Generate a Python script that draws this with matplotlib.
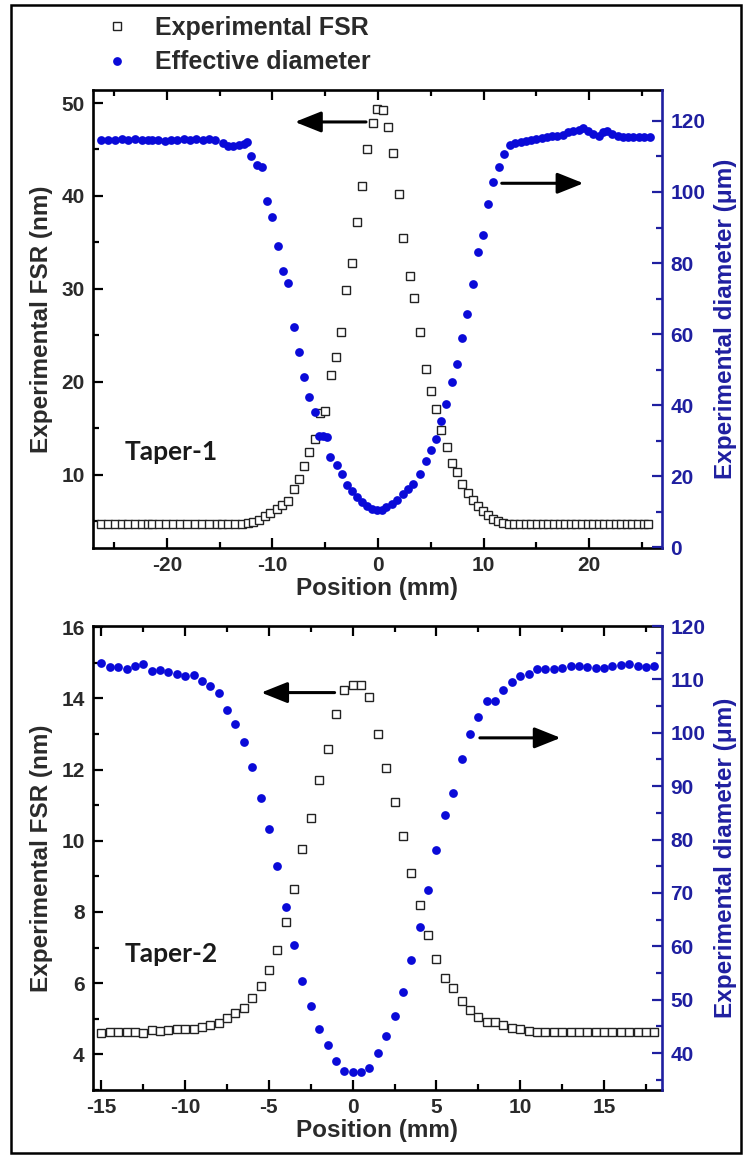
import matplotlib
matplotlib.use("Agg")
import matplotlib.pyplot as plt
from matplotlib.lines import Line2D
from matplotlib.patches import Rectangle
from matplotlib.ticker import MultipleLocator

plt.rcParams['font.family'] = ['Liberation Sans', 'DejaVu Sans']
plt.rcParams['font.weight'] = 'bold'
plt.rcParams['axes.unicode_minus'] = False

# ---------------- Taper-1 ----------------
t1_pos_fsr = [-26.2, -25.6, -24.95, -24.3, -23.7, -23.05, -22.4, -21.8,
              -21.45, -20.75, -20.1, -19.4, -18.75, -18.05, -17.35, -16.7, -16.0, -15.3,
              -14.8, -14.2, -13.55, -12.9, -12.3,
              -11.8, -11.3, -10.7, -10.2, -9.6, -9.07, -8.56, -7.96, -7.49, -6.98,
              -6.5, -5.97, -5.5, -5.02, -4.48, -3.98, -3.5, -3.03, -2.5, -2.0,
              -1.5, -1.0, -0.5, -0.12, 0.5, 0.98, 1.45, 2.02, 2.4, 3.03,
              3.44, 3.98, 4.55, 5.02, 5.5, 5.97, 6.5, 6.98, 7.46, 7.99,
              8.5, 8.97, 9.45, 9.98, 10.46, 10.93, 11.4, 11.88,
              12.4, 12.9, 13.45, 14.0, 14.5, 15.05, 15.6, 16.1, 16.65, 17.2,
              17.7, 18.25, 18.8, 19.3, 19.85, 20.4, 20.9, 21.45, 22.0, 22.5,
              23.05, 23.6, 24.1, 24.65, 25.2, 25.6]
t1_fsr = [4.7, 4.7, 4.71, 4.7, 4.69, 4.7, 4.7, 4.71,
          4.7, 4.7, 4.71, 4.7, 4.7, 4.69, 4.7, 4.7, 4.71, 4.7,
          4.7, 4.71, 4.7, 4.72, 4.74,
          4.87, 5.08, 5.5, 5.9, 6.35, 6.7, 7.13, 8.5, 9.54, 10.97,
          12.4, 13.8, 16.6, 16.8, 20.75, 22.65, 25.3, 29.9, 32.8, 37.2,
          41.1, 45.0, 47.8, 49.4, 49.2, 47.4, 44.6, 40.2, 35.45, 31.4,
          29.0, 25.35, 21.4, 18.95, 17.1, 14.8, 13.0, 11.3, 10.25, 9.0,
          8.03, 7.3, 6.6, 6.05, 5.6, 5.24, 4.98, 4.8,
          4.72, 4.7, 4.7, 4.69, 4.7, 4.7, 4.69, 4.68, 4.67, 4.65,
          4.64, 4.64, 4.65, 4.66, 4.66, 4.67, 4.68, 4.68, 4.68, 4.68,
          4.68, 4.68, 4.68, 4.68, 4.68, 4.69]

t1_pos_dia = [-26.2, -25.6, -24.95, -24.3, -23.7, -23.05, -22.4, -21.8,
              -21.4, -20.8, -20.2, -19.6, -19.0, -18.4, -17.8, -17.2, -16.6, -16.0, -15.4,
              -14.7, -14.2, -13.7, -13.2, -12.7, -12.4,
              -12.07, -11.5, -11.0, -10.5, -10.0, -9.5, -8.97, -8.5, -7.96, -7.49,
              -6.98, -6.5, -5.97, -5.56, -5.18, -4.86, -4.55, -3.92, -3.44, -2.97,
              -2.5, -2.0, -1.55, -1.07, -0.6, -0.1, 0.35, 0.8, 1.3, 1.77,
              2.4, 2.87, 3.35, 3.98, 4.55, 5.0, 5.5, 5.94, 6.45, 6.98,
              7.52, 7.99, 8.47, 8.98, 9.45, 9.98, 10.46, 10.93, 11.47, 11.97,
              12.5, 13.0, 13.5, 14.0, 14.5, 15.0, 15.5, 16.0, 16.5, 17.0,
              17.5, 18.0, 18.5, 19.0, 19.4, 19.9, 20.4, 20.9, 21.3, 21.7,
              22.2, 22.7, 23.2, 23.7, 24.2, 24.7, 25.2, 25.8]
t1_dia = [114.6, 114.7, 114.6, 114.8, 114.6, 114.9, 114.7, 114.5,
          114.6, 114.6, 114.4, 114.5, 114.6, 114.8, 114.7, 114.8, 114.6, 114.9, 114.6,
          113.8, 113.0, 112.8, 113.1, 113.6, 114.1,
          110.2, 107.6, 107.1, 97.5, 92.9, 84.9, 77.7, 74.5, 62.1, 55.0,
          48.0, 42.2, 38.1, 31.3, 31.3, 31.1, 25.3, 23.1, 20.5, 17.5,
          15.9, 14.2, 12.8, 11.5, 10.9, 10.4, 10.5, 11.2, 12.2, 13.2,
          15.1, 16.5, 17.7, 20.5, 24.2, 27.5, 30.4, 35.6, 40.3, 46.6,
          51.7, 58.8, 65.6, 74.0, 83.0, 87.9, 96.6, 102.9, 107.1, 110.7,
          113.3, 113.9, 114.2, 114.4, 114.7, 115.0, 115.2, 115.5, 115.7, 115.8,
          116.1, 116.8, 117.2, 117.5, 117.9, 117.2, 116.2, 115.8, 116.8, 117.3,
          116.3, 115.7, 115.6, 115.6, 115.5, 115.6, 115.6, 115.6]

# ---------------- Taper-2 ----------------
t2_pos = [-15.0, -14.5, -14.0, -13.5, -13.0, -12.5, -12.0, -11.5, -11.0, -10.5,
          -10.0, -9.5, -9.0, -8.5, -8.0, -7.5, -7.0, -6.5, -6.0, -5.5,
          -5.0, -4.5, -4.0, -3.5, -3.0, -2.5, -2.0, -1.5, -1.0, -0.5,
          0.0, 0.5, 1.0, 1.5, 2.0, 2.5, 3.0, 3.5, 4.0, 4.5,
          5.0, 5.5, 6.0, 6.5, 7.0, 7.5, 8.0, 8.5, 9.0, 9.5,
          10.0, 10.5, 11.0, 11.5, 12.0, 12.5, 13.0, 13.5, 14.0, 14.5,
          15.0, 15.5, 16.0, 16.5, 17.0, 17.5, 18.0]
t2_fsr = [4.61, 4.64, 4.63, 4.64, 4.64, 4.61, 4.68, 4.66, 4.68, 4.71,
          4.71, 4.71, 4.77, 4.82, 4.89, 5.03, 5.15, 5.29, 5.57, 5.92,
          6.36, 6.92, 7.73, 8.65, 9.76, 10.65, 11.7, 12.57, 13.55, 14.23,
          14.37, 14.37, 14.05, 13.0, 12.05, 11.1, 10.12, 9.08, 8.19, 7.35,
          6.69, 6.15, 5.87, 5.5, 5.24, 5.06, 4.92, 4.92, 4.82, 4.75,
          4.7, 4.65, 4.64, 4.64, 4.64, 4.63, 4.64, 4.64, 4.64, 4.63,
          4.64, 4.64, 4.63, 4.64, 4.64, 4.64, 4.63]
t2_dia = [113.1, 112.3, 112.3, 112.0, 112.5, 112.8, 111.6, 111.85, 111.4, 111.1,
          110.6, 110.8, 109.7, 108.7, 107.4, 104.2, 101.6, 98.3, 93.6, 87.8,
          81.9, 75.1, 67.4, 60.2, 53.5, 48.9, 44.5, 41.5, 38.6, 36.7,
          36.5, 36.4, 37.3, 40.1, 43.2, 47.0, 51.4, 57.4, 63.65, 70.65,
          78.0, 84.6, 88.75, 95.1, 99.7, 103.0, 106.0, 106.0, 108.1, 109.5,
          110.65, 111.1, 112.0, 111.9, 111.9, 112.2, 112.5, 112.5, 112.4, 112.2,
          112.2, 112.5, 112.7, 112.9, 112.5, 112.4, 112.5]

panel_names = ["Taper-1", "Taper-2"]
legend_labels = ["Experimental FSR", "Effective diameter"]
x_label = "Position (mm)"
left_label = "Experimental FSR (nm)"
right_label = "Experimental diameter (μm)"

BLUE_DOT = '#0a0ad8'
BLUE_AX = '#1f1fa0'
DARK = '#2a2a2a'

W, H = 746, 1157
fig = plt.figure(figsize=(W / 100, H / 100), dpi=100)

def frac_box(l, r, t, b):
    return [l / W, 1 - b / H, (r - l) / W, (b - t) / H]

ax1 = fig.add_axes(frac_box(93, 662, 90, 548))
ax2 = fig.add_axes(frac_box(93, 662, 626, 1090))

def style(ax, axr, xmaj, xmin, ymaj, ymin, rmaj, rmin):
    for a in (ax, axr):
        for s in a.spines.values():
            s.set_linewidth(1.9)
    ax.spines['right'].set_visible(False)
    for k in ('left', 'top', 'bottom'):
        axr.spines[k].set_visible(False)
    axr.spines['right'].set_color(BLUE_AX)
    ax.xaxis.set_major_locator(MultipleLocator(xmaj))
    ax.xaxis.set_minor_locator(MultipleLocator(xmin))
    ax.yaxis.set_major_locator(MultipleLocator(ymaj))
    ax.yaxis.set_minor_locator(MultipleLocator(ymin))
    axr.yaxis.set_major_locator(MultipleLocator(rmaj))
    axr.yaxis.set_minor_locator(MultipleLocator(rmin))
    ax.tick_params(axis='both', which='both', direction='in', top=True, right=False,
                   width=1.6, labelsize=15, labelcolor=DARK, pad=6)
    ax.tick_params(which='major', length=7)
    ax.tick_params(which='minor', length=4)
    axr.tick_params(axis='y', which='both', direction='in', colors=BLUE_AX,
                    width=1.6, labelsize=15, pad=6)
    axr.tick_params(which='major', length=7)
    axr.tick_params(which='minor', length=4)
    for lab in ax.get_xticklabels() + ax.get_yticklabels() + axr.get_yticklabels():
        lab.set_fontweight('bold')
    ax.set_xlabel(x_label, fontsize=17.5, fontweight='bold', color=DARK, labelpad=1)
    ax.set_ylabel(left_label, fontsize=17.5, fontweight='bold', color=DARK, labelpad=6)
    axr.set_ylabel(right_label, fontsize=17.5, fontweight='bold', color=BLUE_AX, labelpad=6)

sq_kw = dict(ls='none', marker='s', ms=5.3, mfc='white', mec='#222222', mew=1.0)
dot_kw = dict(ls='none', marker='o', ms=6.3, mfc=BLUE_DOT, mec=BLUE_DOT, mew=0)
arrow_kw = dict(arrowstyle='-|>,head_length=0.8,head_width=0.32', lw=2.2, color='black',
                mutation_scale=20, shrinkA=0, shrinkB=0)

# Taper-1 panel
ax1r = ax1.twinx()
ax1.plot(t1_pos_fsr, t1_fsr, **sq_kw)
ax1r.plot(t1_pos_dia, t1_dia, **dot_kw)
ax1.set_xlim(-27.0, 26.9)
ax1.set_ylim(2.1, 51.4)
ax1r.set_ylim(-0.2, 128.7)
style(ax1, ax1r, 10, 5, 10, 5, 20, 10)
ax1.annotate('', xy=(-7.87, 47.96), xytext=(-1.14, 47.96), arrowprops=arrow_kw)
ax1r.annotate('', xy=(19.46, 102.45), xytext=(11.72, 102.45), arrowprops=arrow_kw)
ax1.text(-24.0, 12.4, panel_names[0], family='Lato', fontweight='bold', fontsize=19,
         color='#1a1a1a', ha='left', va='center')

# Taper-2 panel
ax2r = ax2.twinx()
ax2.plot(t2_pos, t2_fsr, **sq_kw)
ax2r.plot(t2_pos, t2_dia, **dot_kw)
ax2.set_xlim(-15.5, 18.46)
ax2.set_ylim(3.0, 16.03)
ax2r.set_ylim(33.1, 120.0)
style(ax2, ax2r, 5, 2.5, 2, 1, 10, 5)
ax2.annotate('', xy=(-5.46, 14.16), xytext=(-1.08, 14.16), arrowprops=arrow_kw)
ax2r.annotate('', xy=(12.41, 99.05), xytext=(7.59, 99.05), arrowprops=arrow_kw)
ax2.text(-13.62, 6.81, panel_names[1], family='Lato', fontweight='bold', fontsize=19,
         color='#1a1a1a', ha='left', va='center')

# Legend above the upper panel
handles = [Line2D([], [], **sq_kw), Line2D([], [], **dot_kw)]
fig.legend(handles, legend_labels, loc='upper left', bbox_to_anchor=(0.127, 0.995),
           frameon=False, handlelength=1.0, handletextpad=1.0, labelspacing=0.42,
           borderaxespad=0, prop=dict(family='Liberation Sans', weight='bold', size=18),
           labelcolor=DARK)

# Outer frame
fig.patches.append(Rectangle((11 / W, 4 / H), 730 / W, 1148 / H, transform=fig.transFigure,
                             fill=False, lw=1.8, edgecolor='black', figure=fig))

fig.savefig('out.png', dpi=100)
